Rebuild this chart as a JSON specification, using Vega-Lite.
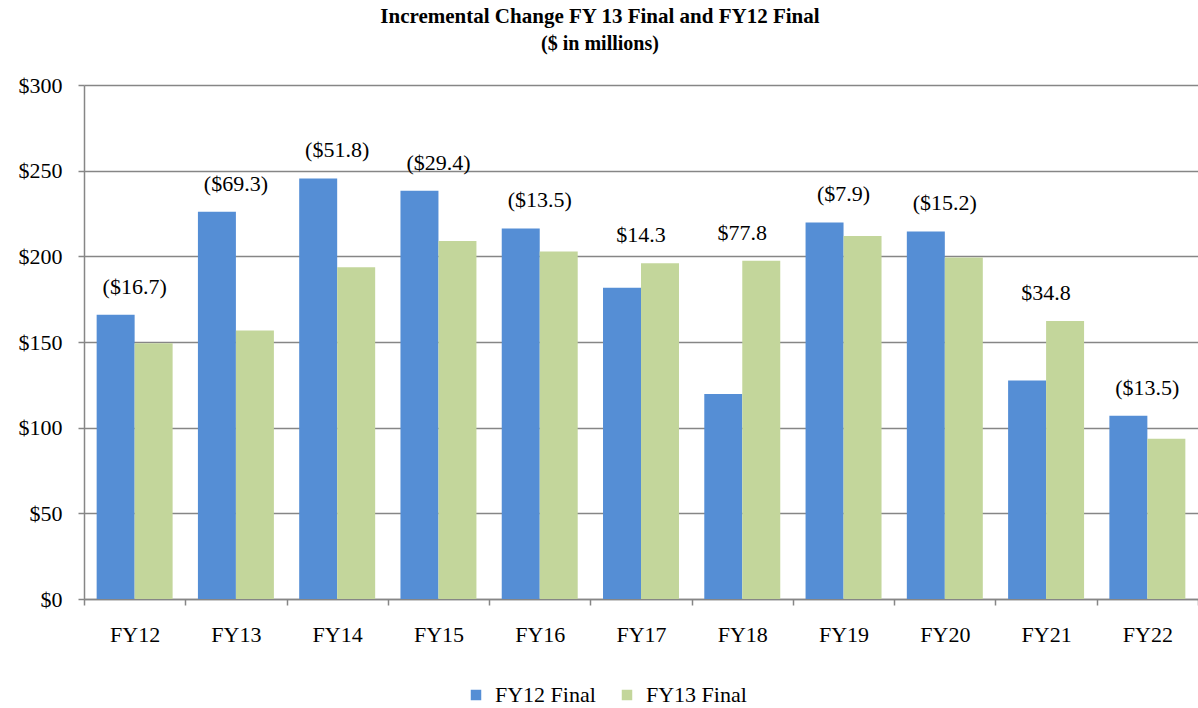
{
  "$schema": "https://vega.github.io/schema/vega-lite/v6.json",
  "width": 1114,
  "height": 514,
  "autosize": {"type": "none"},
  "padding": {"left": 84, "top": 85, "right": 0, "bottom": 109},
  "background": "white",
  "title": {
    "text": "Incremental Change FY 13 Final and FY12 Final",
    "subtitle": "($ in millions)",
    "anchor": "middle",
    "frame": "group",
    "dx": -41,
    "offset": 20,
    "font": "Liberation Serif",
    "fontSize": 21,
    "fontWeight": "bold",
    "color": "black",
    "subtitleFont": "Liberation Serif",
    "subtitleFontSize": 20,
    "subtitleFontWeight": "bold",
    "subtitleColor": "black",
    "subtitlePadding": 7
  },
  "data": {
    "values": [
      {"year": "FY12", "series": "FY12 Final", "value": 165.9, "label": "($16.7)"},
      {"year": "FY12", "series": "FY13 Final", "value": 149.2, "label": "($16.7)"},
      {"year": "FY13", "series": "FY12 Final", "value": 226.0, "label": "($69.3)"},
      {"year": "FY13", "series": "FY13 Final", "value": 156.7, "label": "($69.3)"},
      {"year": "FY14", "series": "FY12 Final", "value": 245.5, "label": "($51.8)"},
      {"year": "FY14", "series": "FY13 Final", "value": 193.7, "label": "($51.8)"},
      {"year": "FY15", "series": "FY12 Final", "value": 238.3, "label": "($29.4)"},
      {"year": "FY15", "series": "FY13 Final", "value": 208.9, "label": "($29.4)"},
      {"year": "FY16", "series": "FY12 Final", "value": 216.3, "label": "($13.5)"},
      {"year": "FY16", "series": "FY13 Final", "value": 202.8, "label": "($13.5)"},
      {"year": "FY17", "series": "FY12 Final", "value": 181.6, "label": "$14.3"},
      {"year": "FY17", "series": "FY13 Final", "value": 195.9, "label": "$14.3"},
      {"year": "FY18", "series": "FY12 Final", "value": 119.6, "label": "$77.8"},
      {"year": "FY18", "series": "FY13 Final", "value": 197.4, "label": "$77.8"},
      {"year": "FY19", "series": "FY12 Final", "value": 219.8, "label": "($7.9)"},
      {"year": "FY19", "series": "FY13 Final", "value": 211.9, "label": "($7.9)"},
      {"year": "FY20", "series": "FY12 Final", "value": 214.5, "label": "($15.2)"},
      {"year": "FY20", "series": "FY13 Final", "value": 199.3, "label": "($15.2)"},
      {"year": "FY21", "series": "FY12 Final", "value": 127.5, "label": "$34.8"},
      {"year": "FY21", "series": "FY13 Final", "value": 162.3, "label": "$34.8"},
      {"year": "FY22", "series": "FY12 Final", "value": 107.0, "label": "($13.5)"},
      {"year": "FY22", "series": "FY13 Final", "value": 93.5, "label": "($13.5)"}
    ]
  },
  "encoding": {
    "x": {
      "field": "year",
      "type": "nominal",
      "scale": {"paddingInner": 0, "paddingOuter": 0},
      "axis": {
        "title": null,
        "labelAngle": 0,
        "labelFont": "Liberation Serif",
        "labelFontSize": 22,
        "labelColor": "black",
        "labelPadding": 19,
        "tickBand": "extent",
        "tickSize": 6,
        "tickColor": "#868686",
        "domainColor": "#868686",
        "domainWidth": 1.5,
        "tickWidth": 1.5
      }
    }
  },
  "layer": [
    {
      "mark": {"type": "bar"},
      "encoding": {
        "xOffset": {"field": "series", "type": "nominal", "scale": {"paddingInner": 0, "paddingOuter": 0.333}},
        "y": {
          "field": "value",
          "type": "quantitative",
          "scale": {"domain": [0, 300], "nice": false},
          "axis": {
            "title": null,
            "values": [0, 50, 100, 150, 200, 250, 300],
            "format": "$,.0f",
            "labelFont": "Liberation Serif",
            "labelFontSize": 22,
            "labelColor": "black",
            "labelPadding": 16,
            "tickSize": 6,
            "tickColor": "#868686",
            "tickWidth": 1.5,
            "domainColor": "#868686",
            "domainWidth": 1.5,
            "grid": true,
            "gridColor": "#868686",
            "gridWidth": 1.5
          }
        },
        "color": {
          "field": "series",
          "type": "nominal",
          "scale": {"domain": ["FY12 Final", "FY13 Final"], "range": ["#558ED5", "#C3D69B"]},
          "legend": {
            "title": null,
            "orient": "none",
            "direction": "horizontal",
            "legendX": 381,
            "legendY": 599,
            "padding": 0,
            "symbolType": "square",
            "symbolSize": 110,
            "symbolStrokeWidth": 0,
            "labelFont": "Liberation Serif",
            "labelFontSize": 22,
            "labelColor": "black",
            "labelOffset": 8,
            "columnPadding": 20
          }
        }
      }
    },
    {
      "mark": {"type": "text", "font": "Liberation Serif", "fontSize": 22, "color": "black", "baseline": "middle", "dy": -28},
      "encoding": {
        "y": {"aggregate": "max", "field": "value", "type": "quantitative"},
        "text": {"field": "label", "type": "nominal"}
      }
    }
  ],
  "config": {"view": {"stroke": null}}
}
